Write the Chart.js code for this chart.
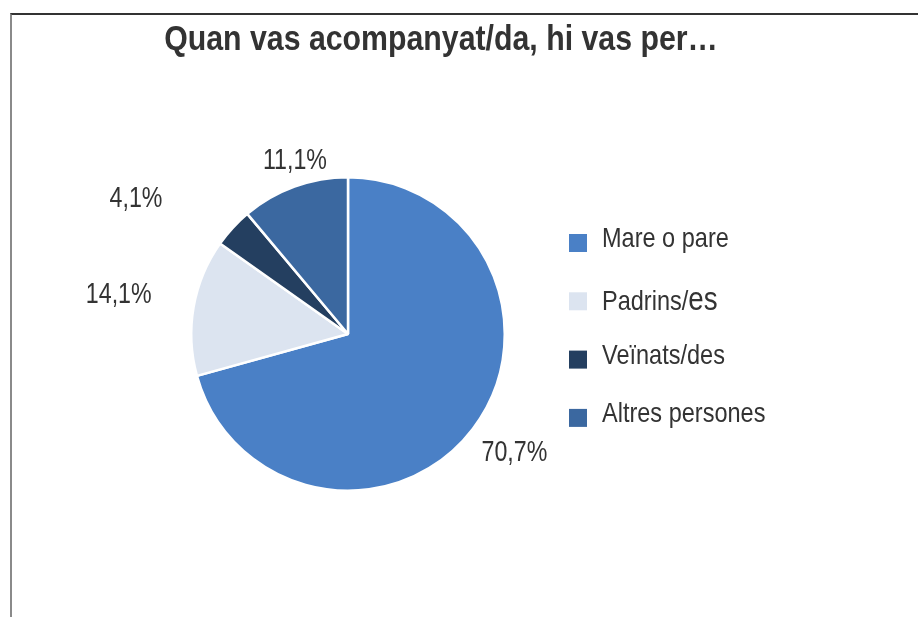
<!DOCTYPE html>
<html>
<head>
<meta charset="utf-8">
<script src="https://cdn.jsdelivr.net/npm/chart.js@4.4.0/dist/chart.umd.min.js"></script>
<style>
    html, body { margin: 0; padding: 0; background: #fff; }
    #wrap { position: relative; width: 918px; height: 617px; }
    #frame {
        position: absolute; left: 10px; top: 13px; right: 0; bottom: 0;
        border-top: 2px solid #333; border-left: 2px solid #8a8a8a;
    }
    canvas { position: absolute; left: 0; top: 0; }
</style>
</head>
<body>
<div id="wrap">
    <div id="frame"></div>
    <canvas id="pie" width="918" height="617"></canvas>
</div>
<script>
// dades del gràfic
const titol = 'Quan vas acompanyat/da, hi vas per…';
const categories = ['Mare o pare', 'Padrins/es', 'Veïnats/des', 'Altres persones'];
const valors = [70.7, 14.1, 4.1, 11.1];
const etiquetes = ['70,7%', '14,1%', '4,1%', '11,1%'];

// estil
const colors = ['#4a80c6', '#dce4f0', '#243f60', '#3b68a0'];
const labelGap = [47, 76, 95, 25];     // distància de l'etiqueta fora del pastís
const labelTurn = [-2, 0, -10, 3];      // petit gir de l'etiqueta (graus)
const FONT = "'Liberation Sans', Arial, sans-serif";

// text estret (com Arial Narrow) escalant horitzontalment
function narrowText(ctx, text, x, y, sx) {
    ctx.save();
    ctx.translate(x, y);
    ctx.scale(sx, 1);
    ctx.fillText(text, 0, 0);
    ctx.restore();
}

const textPlugin = {
    id: 'textPlugin',
    afterDraw(chart) {
        const ctx = chart.ctx;
        const meta = chart.getDatasetMeta(0);
        ctx.save();

        // títol
        ctx.fillStyle = '#333';
        ctx.font = 'bold 35px ' + FONT;
        ctx.textAlign = 'center';
        ctx.textBaseline = 'alphabetic';
        narrowText(ctx, titol, 441, 50, 0.865);

        // etiquetes de percentatge
        ctx.font = '29px ' + FONT;
        ctx.textBaseline = 'middle';
        meta.data.forEach((arc, i) => {
            const mid = (arc.startAngle + arc.endAngle) / 2 + labelTurn[i] * Math.PI / 180;
            const r = arc.outerRadius + labelGap[i];
            narrowText(ctx, etiquetes[i], arc.x + r * Math.cos(mid), arc.y + r * Math.sin(mid) + 1, 0.8);
        });

        // llegenda
        const legX = 569, legY = 243, legStep = 58.3, sx = 0.84;
        ctx.textAlign = 'left';
        ctx.textBaseline = 'alphabetic';
        categories.forEach((cat, i) => {
            const y = legY + i * legStep;
            ctx.fillStyle = colors[i];
            ctx.fillRect(legX, y - 9, 18, 18);
            ctx.fillStyle = '#333';
            if (cat === 'Padrins/es') {
                ctx.font = '28px ' + FONT;
                narrowText(ctx, 'Padrins/', 602, y + 9, sx);
                const w = ctx.measureText('Padrins/').width * sx;
                ctx.font = '33px ' + FONT;
                narrowText(ctx, 'es', 602 + w, y + 9, sx);
            } else {
                ctx.font = '28px ' + FONT;
                narrowText(ctx, cat, 602, y + 4, sx);
            }
        });
        ctx.restore();
    }
};

new Chart(document.getElementById('pie'), {
    type: 'pie',
    data: {
        labels: categories,
        datasets: [{
            data: valors,
            backgroundColor: colors,
            borderColor: '#ffffff',
            borderWidth: 2.5
        }]
    },
    options: {
        responsive: false,
        animation: false,
        rotation: 0,
        layout: { padding: { left: 190, right: 412, top: 176, bottom: 125 } },
        plugins: {
            legend: { display: false },
            title: { display: false },
            tooltip: { enabled: false }
        }
    },
    plugins: [textPlugin]
});
</script>
</body>
</html>
